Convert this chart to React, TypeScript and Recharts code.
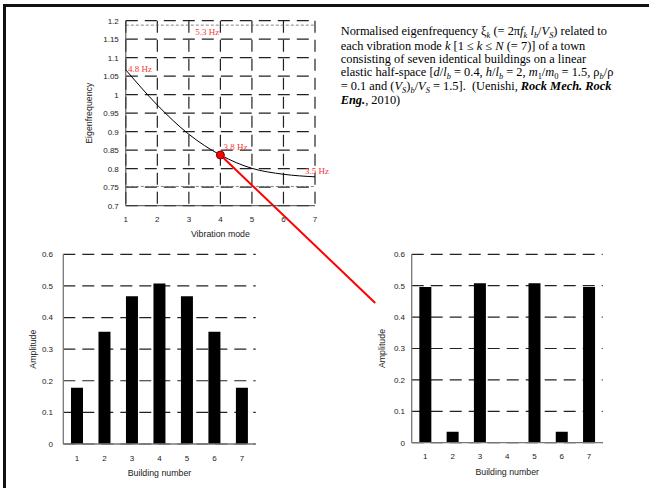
import React from 'react';
import {
  LineChart, Line, BarChart, Bar, XAxis, YAxis, CartesianGrid,
  ReferenceDot, ReferenceLine,
} from 'recharts';

// ---------- data ----------
const modes = [1, 2, 3, 4, 5, 6, 7];
const eigenfrequency = [1.067, 0.972, 0.893, 0.837, 0.801, 0.785, 0.778];
const eigenTicks = [0.7, 0.75, 0.8, 0.85, 0.9, 0.95, 1, 1.05, 1.1, 1.15, 1.2];
const modeTicks = [1, 2, 3, 4, 5, 6, 7];
const highlightedModeIndex = 3;
const freqLabelTexts = ['5.3 Hz', '4.8 Hz', '3.8 Hz', '3.5 Hz'];
const freqLabelX = [3.58, 1.45, 4.476, 7.06];
const freqLabelY = [1.169, 1.071, 0.8595, 0.795];
const boundLines = [1.188, 0.752];

const buildings = ['1', '2', '3', '4', '5', '6', '7'];
const amplitudeMode1 = [0.178, 0.355, 0.467, 0.508, 0.467, 0.355, 0.178];
const amplitudeMode4 = [0.496, 0.035, 0.508, 0, 0.508, 0.035, 0.496];
const amplitudeTicks = [0, 0.1, 0.2, 0.3, 0.4, 0.5, 0.6];

// ---------- tables ----------
const eigenData = modes.map((m, i) => ({ mode: m, f: eigenfrequency[i] }));
const leftData = buildings.map((b, i) => ({ b, a: amplitudeMode1[i] }));
const rightData = buildings.map((b, i) => ({ b, a: amplitudeMode4[i] }));

const SANS = '"Liberation Sans", Arial, sans-serif';
const SERIF = '"Liberation Serif", "Times New Roman", serif';
const tickStyle = { fontSize: 8, fill: '#222', fontFamily: SANS };
const titleStyle = { fontSize: 8.8, fill: '#222', fontFamily: SANS };
const borderStroke = '#444';
const gridDash = '12 7';

const Sub = ({ children }: { children: React.ReactNode }) => (
  <span style={{ fontSize: '0.68em', position: 'relative', top: '0.32em' }}>{children}</span>
);

function TopChart() {
  return (
    <LineChart
      width={651}
      height={488}
      data={eigenData}
      margin={{ top: 20.7, right: 336, bottom: 225.7, left: 52.2 }}
      style={{ overflow: 'visible' }}
    >
      <CartesianGrid stroke="#222" strokeDasharray={gridDash} strokeWidth={1.2} />
      {boundLines.map((v, i) => (
        <ReferenceLine key={i} y={v} stroke="#666" strokeWidth={0.8} strokeDasharray="3 2" />
      ))}
      <XAxis
        dataKey="mode"
        type="number"
        domain={[1, 7]}
        ticks={modeTicks}
        allowDataOverflow
        height={56.6}
        tickLine={false}
        tickSize={6}
        tickMargin={5}
        axisLine={{ stroke: borderStroke }}
        tick={tickStyle}
        label={{ value: 'Vibration mode', position: 'center', ...titleStyle }}
      />
      <XAxis xAxisId="top" orientation="top" type="number" domain={[1, 7]} height={0} tick={false} tickLine={false} axisLine={{ stroke: borderStroke }} />
      <YAxis
        type="number"
        domain={[0.7, 1.2]}
        ticks={eigenTicks}
        allowDataOverflow
        interval={0}
        width={73.6}
        tickLine={false}
        tickSize={5}
        tickMargin={2}
        axisLine={{ stroke: borderStroke }}
        tick={tickStyle}
        label={{ value: 'Eigenfrequency', position: 'center', angle: -90, ...titleStyle }}
      />
      <YAxis yAxisId="right" orientation="right" width={0} tick={false} tickLine={false} axisLine={{ stroke: borderStroke }} />
      <Line type="monotone" dataKey="f" stroke="#000" strokeWidth={1} dot={false} isAnimationActive={false} />
      <ReferenceLine
        segment={[
          { x: modes[highlightedModeIndex], y: eigenfrequency[highlightedModeIndex] },
          { x: 8.91, y: 0.437 },
        ]}
        stroke="#ff0000"
        strokeWidth={2}
        ifOverflow="visible"
      />
      <ReferenceDot
        x={modes[highlightedModeIndex]}
        y={eigenfrequency[highlightedModeIndex]}
        r={4}
        fill="#ff0000"
        stroke="#7a0000"
        strokeWidth={1}
        ifOverflow="visible"
      />
      {freqLabelTexts.map((t, i) => (
        <ReferenceDot
          key={t}
          x={freqLabelX[i]}
          y={freqLabelY[i]}
          r={0}
          fill="none"
          stroke="none"
          ifOverflow="visible"
          label={{ value: t, position: 'center', fill: '#f23a3a', fontSize: 9, fontFamily: SERIF }}
        />
      ))}
    </LineChart>
  );
}

function AmpChart({
  data, width, margin, yWidth, yTickSize, yTickMargin,
}: {
  data: { b: string; a: number }[];
  width: number;
  margin: { top: number; right: number; bottom: number; left: number };
  yWidth: number;
  yTickSize: number;
  yTickMargin: number;
}) {
  return (
    <BarChart width={width} height={248} data={data} margin={margin} barCategoryGap="28%">
      <CartesianGrid vertical={false} stroke="#222" strokeDasharray={gridDash} strokeWidth={1.2} />
      <XAxis
        dataKey="b"
        height={40}
        tickLine={false}
        tickSize={6}
        tickMargin={5}
        axisLine={{ stroke: '#777', strokeWidth: 1.3 }}
        tick={tickStyle}
        label={{ value: 'Building number', position: 'center', dy: 9, ...titleStyle }}
      />
      <XAxis xAxisId="top" orientation="top" dataKey="b" height={0} tick={false} tickLine={false} axisLine={{ stroke: '#777', strokeWidth: 1.3 }} />
      <YAxis
        type="number"
        domain={[0, 0.6]}
        ticks={amplitudeTicks}
        interval={0}
        allowDataOverflow
        width={yWidth}
        tickLine={false}
        tickSize={yTickSize}
        tickMargin={yTickMargin}
        axisLine={{ stroke: '#777', strokeWidth: 1.3 }}
        tick={tickStyle}
        label={{ value: 'Amplitude', position: 'center', angle: -90, ...titleStyle }}
      />
      <YAxis yAxisId="right" orientation="right" width={0} tick={false} tickLine={false} axisLine={{ stroke: '#777', strokeWidth: 1.3 }} />
      <Bar dataKey="a" fill="#000" isAnimationActive={false} />
    </BarChart>
  );
}

export default function App() {
  return (
    <div style={{ position: 'absolute', left: 0, top: 0, width: 651, height: 488, background: '#fff', overflow: 'hidden' }}>
      <div
        style={{
          position: 'absolute', left: 3, top: 4, width: 646, height: 490,
          borderTop: '3px solid #111', borderLeft: '3px solid #111', boxSizing: 'border-box',
        }}
      />
      <div style={{ position: 'absolute', left: 0, top: 240 }}>
        <AmpChart
          data={leftData}
          width={300}
          margin={{ top: 14.3, right: 44.3, bottom: 4, left: 2.7 }}
          yWidth={60.6}
          yTickSize={6}
          yTickMargin={4.3}
        />
      </div>
      <div style={{ position: 'absolute', left: 340, top: 240 }}>
        <AmpChart
          data={rightData}
          width={311}
          margin={{ top: 14.3, right: 48.3, bottom: 5.3, left: 11.7 }}
          yWidth={60}
          yTickSize={4}
          yTickMargin={2.7}
        />
      </div>
      <div style={{ position: 'absolute', left: 0, top: 0 }}>
        <TopChart />
      </div>
      <div
        style={{
          position: 'absolute', left: 340.7, top: 25.3, fontFamily: SERIF, fontSize: 12.4,
          lineHeight: '13.2px', color: '#000', whiteSpace: 'nowrap',
        }}
      >
        <div>
          Normalised eigenfrequency ξ<Sub><i>k</i></Sub> (= 2π<i>f</i><Sub><i>k</i></Sub> <i>l</i><Sub><i>b</i></Sub>/<i>V</i><Sub><i>S</i></Sub>) related to
        </div>
        <div>
          each vibration mode <i>k</i> [1 ≤ <i>k</i> ≤ <i>N</i> (= 7)] of a town
        </div>
        <div>consisting of seven identical buildings on a linear</div>
        <div>
          elastic half-space [<i>d</i>/<i>l</i><Sub><i>b</i></Sub> = 0.4, <i>h</i>/<i>l</i><Sub><i>b</i></Sub> = 2, <i>m</i><Sub>1</Sub>/<i>m</i><Sub>0</Sub> = 1.5, ρ<Sub><i>b</i></Sub>/ρ
        </div>
        <div>
          = 0.1 and (<i>V</i><Sub><i>S</i></Sub>)<Sub><i>b</i></Sub>/<i>V</i><Sub><i>S</i></Sub> = 1.5].&nbsp; (Uenishi, <i><b>Rock Mech. Rock</b></i>
        </div>
        <div>
          <i><b>Eng.</b></i>, 2010)
        </div>
      </div>
    </div>
  );
}
